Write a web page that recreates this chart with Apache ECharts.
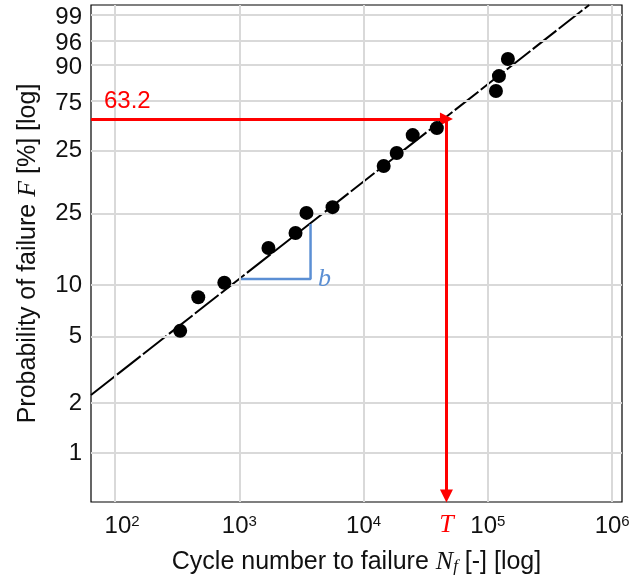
<!DOCTYPE html>
<html>
<head>
<meta charset="utf-8">
<script src="https://cdn.jsdelivr.net/npm/echarts@6/dist/echarts.min.js"></script>
<style>
  html, body { margin: 0; padding: 0; background: #fff; }
  #chart { width: 633px; height: 585px; }
</style>
</head>
<body>
<div id="chart"></div>
<script>
// failure data: cycles to failure / probability of failure [%]
const cycles = [334, 467, 757, 1714, 2831, 3467, 5623, 14500, 18460, 24830, 38840, 116100, 122700, 144900];
const failProb = [5.4, 8.5, 10.3, 16.2, 19.6, 25.1, 26.9, 42.7, 48.7, 57.6, 61.2, 79.6, 85.9, 91.7];

// fitted line end points
const fitCycles = [64, 653000];
const fitProb = [2.24, 99.5];

// slope triangle (b)
const triCycles = [1000, 3740, 3740];
const triProb = [10.83, 10.83, 21.93];

// characteristic life T and the 63.2 line
const T = 46400;
const refProb = 65.9;      // where the "63.2" line sits in the picture
const arrowEndProb = 0.55;

// ticks
const xTicks = [100, 1000, 10000, 100000, 1000000];
const xTickLabels = ['10{s|2}', '10{s|3}', '10{s|4}', '10{s|5}', '10{s|6}'];
const yTicks = [99, 96, 90, 75, 50, 25, 10, 5, 2, 1];
const yTickLabels = ['99', '96', '90', '75', '25', '25', '10', '5', '2', '1'];

// weibull probability scale
const w = p => Math.log(-Math.log(1 - p / 100));

const FONT = '"Liberation Sans", Arial, sans-serif';
const SERIF = '"Liberation Serif", "DejaVu Serif", serif';
const RED = '#ff0000';
const BLUE = '#5b8fd4';

let myChart = echarts.init(document.getElementById('chart'));

let gridLines = [];
xTicks.forEach(function (v, i) {
  gridLines.push({
    xAxis: v,
    label: { formatter: xTickLabels[i], position: 'start', distance: 12, padding: i === 0 ? [0, 0, 0, 14] : 0 }
  });
});
yTicks.forEach(function (v, i) {
  gridLines.push({
    yAxis: w(v),
    label: { formatter: yTickLabels[i], position: 'start', distance: 9, padding: i < 4 ? [5, 0, 0, 0] : 0 }
  });
});

let option = {
  animation: false,
  grid: {
    left: 91, top: 5, right: 11, bottom: 83,
    show: true, borderColor: '#000', borderWidth: 1.2, backgroundColor: '#fff'
  },
  xAxis: {
    type: 'log',
    logBase: 10,
    min: 64,
    max: 1200000,
    axisLine: { show: false },
    axisTick: { show: false },
    axisLabel: { show: false },
    splitLine: { show: false },
    name: '{a|Cycle number to failure }{i|N}{sub|f}{a| [-] [log]}',
    nameLocation: 'middle',
    nameGap: 47,
    nameTextStyle: {
      rich: {
        a: { fontFamily: FONT, fontSize: 25, color: '#111' },
        i: { fontFamily: SERIF, fontStyle: 'italic', fontSize: 26, color: '#111' },
        sub: { fontFamily: SERIF, fontStyle: 'italic', fontSize: 17, color: '#111', verticalAlign: 'bottom', padding: [8, 0, 0, 0] }
      }
    }
  },
  yAxis: {
    type: 'value',
    min: -5.285,
    max: 1.667,
    axisLine: { show: false },
    axisTick: { show: false },
    axisLabel: { show: false },
    splitLine: { show: false },
    name: '{a|Probability of failure }{i|F}{a| [%] [log]}',
    nameLocation: 'middle',
    nameGap: 50,
    nameTextStyle: {
      rich: {
        a: { fontFamily: FONT, fontSize: 25, color: '#111' },
        i: { fontFamily: SERIF, fontStyle: 'italic', fontSize: 26, color: '#111' }
      }
    }
  },
  series: [
    {
      // grid lines and tick labels
      type: 'line',
      data: [],
      z: 1,
      markLine: {
        silent: true,
        symbol: ['none', 'none'],
        lineStyle: { color: '#d9d9d9', width: 2, type: 'solid' },
        label: {
          fontFamily: FONT, fontSize: 24, color: '#111',
          rich: { s: { fontFamily: FONT, fontSize: 15, color: '#111', verticalAlign: 'top' } }
        },
        data: gridLines
      }
    },
    {
      name: 'fit',
      type: 'line',
      data: fitCycles.map((c, i) => [c, w(fitProb[i])]),
      showSymbol: false,
      clip: true,
      lineStyle: { color: '#000', width: 2, type: [30, 3] },
      z: 2
    },
    {
      name: 'slope',
      type: 'line',
      data: triCycles.map((c, i) => [c, w(triProb[i])]),
      showSymbol: false,
      lineStyle: { color: BLUE, width: 2.5 },
      z: 3,
      markPoint: {
        symbol: 'circle',
        symbolSize: 1,
        itemStyle: { color: 'transparent' },
        label: {
          show: true, position: 'right', distance: 7, formatter: 'b', padding: [0, 0, 4, 0],
          fontFamily: SERIF, fontStyle: 'italic', fontSize: 26, color: BLUE
        },
        data: [{ coord: [triCycles[1], w(triProb[1])] }]
      }
    },
    {
      // 63.2 arrow and T arrow
      type: 'line',
      data: [],
      z: 4,
      markLine: {
        silent: true,
        symbol: ['none', 'triangle'],
        symbolSize: [13, 13],
        lineStyle: { color: RED, width: 3, type: 'solid' },
        label: { fontFamily: FONT, fontSize: 24, color: RED },
        data: [
          [
            { coord: [64, w(refProb)], label: { show: true, formatter: '63.2', position: 'insideStartTop', distance: 6, padding: [0, 0, 0, 7] } },
            { coord: [T, w(refProb)] }
          ],
          [
            { coord: [T, w(refProb)], label: { show: true, position: 'end', distance: 16, formatter: 'T', fontFamily: SERIF, fontStyle: 'italic', fontSize: 26, color: RED } },
            { coord: [T, w(arrowEndProb)] }
          ]
        ]
      }
    },
    {
      name: 'data',
      type: 'scatter',
      data: cycles.map((c, i) => [c, w(failProb[i])]),
      symbolSize: 14,
      itemStyle: { color: '#000', opacity: 1 },
      z: 5
    }
  ]
};

myChart.setOption(option);
</script>
</body>
</html>
